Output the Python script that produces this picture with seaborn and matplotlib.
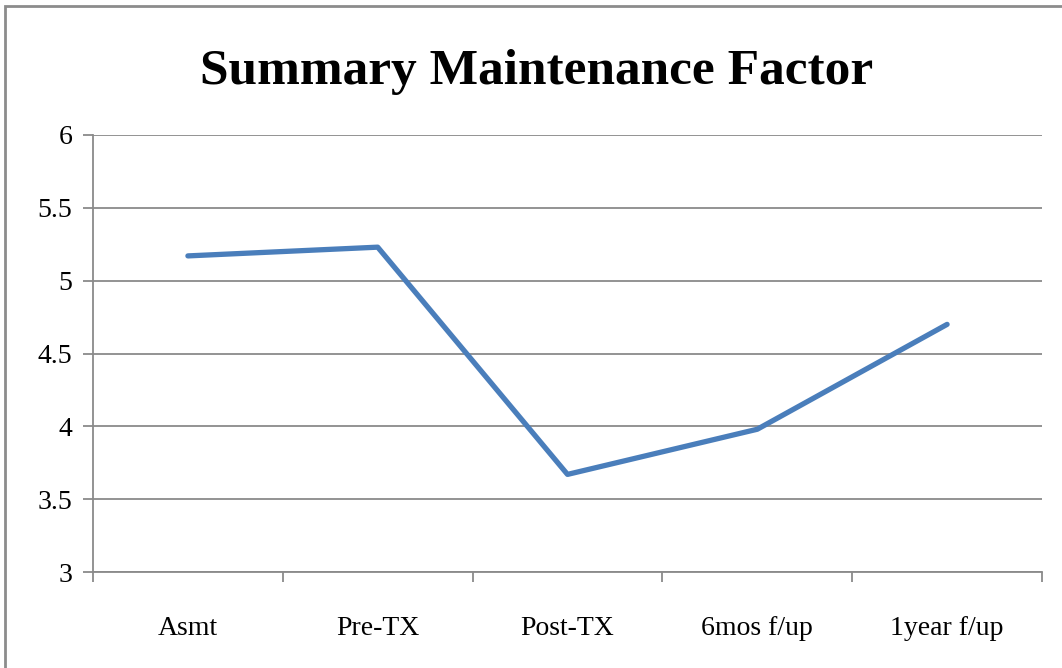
#!/usr/bin/env python

import pandas as pd
import seaborn as sns
from matplotlib import pyplot as plt
from matplotlib.patches import Rectangle
from matplotlib.ticker import FixedLocator

stages = ['Asmt', 'Pre-TX', 'Post-TX', '6mos f/up', '1year f/up']
scores = [5.17, 5.23, 3.67, 3.98, 4.70]
yticks = [3, 3.5, 4, 4.5, 5, 5.5, 6]
ytick_labels = ['3', '3.5', '4', '4.5', '5', '5.5', '6']

df = pd.DataFrame({'stage': stages, 'score': scores})

sns.set_style("white")
plt.rcParams['font.family'] = ['Liberation Serif', 'DejaVu Serif']
plt.rcParams['text.color'] = 'black'
plt.rcParams['xtick.color'] = 'black'
plt.rcParams['ytick.color'] = 'black'

fig = plt.figure(figsize=(10.62, 6.68), dpi=100)
ax = fig.add_axes([93/1062, 96/668, (1042-93)/1062, (572-135)/668])

sns.lineplot(data=df, x='stage', y='score', color='#4a7ebb', linewidth=3.8,
             sort=False, ax=ax)

grid_c = '#8a8a8a'
ax.set_ylim(3, 6)
ax.set_xlim(-0.5, len(stages) - 0.5)
ax.set_yticks(yticks)
ax.set_yticklabels(ytick_labels, fontsize=20)
ax.yaxis.grid(True, color=grid_c, linewidth=1.3)
ax.set_axisbelow(True)
ax.tick_params(axis='y', length=7, width=1.3, color=grid_c, labelcolor='black', pad=8, left=True)

ax.set_xticks(range(len(stages)))
ax.set_xticklabels(stages, fontsize=20)
ax.xaxis.set_minor_locator(FixedLocator([i - 0.5 for i in range(len(stages) + 1)]))
ax.tick_params(axis='x', which='major', length=0, pad=32, labelcolor='black')
ax.tick_params(axis='x', which='minor', length=7, width=1.3, color=grid_c, bottom=True)

for s in ['top', 'right']:
    ax.spines[s].set_visible(False)
for s in ['left', 'bottom']:
    ax.spines[s].set_color(grid_c)
    ax.spines[s].set_linewidth(1.3)

ax.set_xlabel('')
ax.set_ylabel('')

fig.text(537/1062, 1 - 72/668, 'Summary Maintenance Factor', ha='center', va='center',
         fontsize=37, fontweight='bold', color='black')

fig.patches.append(Rectangle((5/1062, -0.1), 1.2, 1 - 6/668 + 0.1, transform=fig.transFigure,
                             fill=False, edgecolor='#8c8c8c', linewidth=2))

plt.savefig('out.png', dpi=100)
